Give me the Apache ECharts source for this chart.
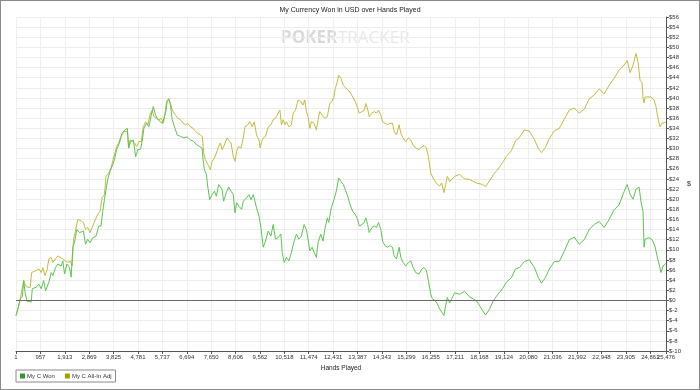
<!DOCTYPE html>
<html>
<head>
<meta charset="utf-8">
<script src="https://cdn.jsdelivr.net/npm/echarts@6/dist/echarts.min.js"></script>
<style>
html,body{margin:0;padding:0;background:#fff;}
#chart{width:700px;height:390px;box-sizing:border-box;border:1px solid #8a8a8a;}
</style>
</head>
<body>
<div id="chart"></div>
<script>
const titleText = 'My Currency Won in USD over Hands Played';
const xAxisName = 'Hands Played';
const yAxisName = '$';
const seriesNames = ['My C Won', 'My C All-In Adj'];

const xTicks = [1, 957, 1913, 2869, 3825, 4781, 5737, 6694, 7650, 8606, 9562, 10518, 11474, 12431, 13387, 14343, 15299, 16255, 17211, 18168, 19124, 20080, 21036, 21992, 22948, 23905, 24861, 25476];

const wonHands = [1,79,169,247,302,353,431,599,638,794,900,989,1083,1161,1290,1380,1447,1552,1642,1771,1837,1904,1994,2099,2162,2228,2294,2384,2490,2646,2724,2814,2904,3009,3138,3244,3334,3400,3467,3529,3595,3685,3791,3857,3947,4053,4154,4232,4365,4416,4494,4600,4690,4779,4885,4951,5014,5119,5209,5303,5381,5471,5561,5639,5733,5795,5862,5928,5990,6057,6123,6213,6319,6448,6577,6709,6838,6967,7100,7202,7295,7334,7385,7463,7514,7592,7686,7776,7854,7944,8010,8077,8139,8245,8335,8428,8518,8585,8647,8741,8843,8909,9038,9132,9210,9300,9366,9428,9522,9600,9690,9780,9886,9991,10081,10171,10277,10382,10433,10511,10601,10695,10796,10902,10992,11085,11187,11292,11382,11448,11515,11605,11683,11773,11839,11945,12035,12101,12203,12257,12359,12464,12554,12648,12738,12828,12906,13000,13090,13195,13297,13390,13453,13558,13648,13715,13781,13844,13949,14039,14133,14211,14301,14368,14469,14563,14653,14757,14820,14914,15016,15082,15172,15277,15383,15473,15563,15668,15797,15902,15992,16086,16164,16254,16320,16422,16515,16605,16683,16773,16840,16906,16996,17192,17387,17583,17778,18052,18286,18403,18560,18716,18872,19067,19224,19419,19576,19732,19927,20123,20318,20474,20592,20748,20904,21100,21295,21490,21686,21881,22076,22272,22467,22662,22858,23053,23248,23444,23639,23835,23952,24069,24186,24303,24421,24499,24577,24616,24655,24811,24928,25046,25124,25202,25280,25358,25476];
const wonValues = [-3.0,-1.7,0.3,0.7,3.9,1.7,-0.2,-0.3,2.3,2.6,3.2,2.3,3.9,1.9,3.6,5.5,4.9,6.5,7.2,6.8,7.8,5.2,7.2,6.5,4.6,10.5,11.4,14.0,13.4,13.7,11.1,12.1,11.4,12.4,12.7,14.7,14.7,17.6,19.9,21.9,23.9,25.5,26.8,27.8,29.8,31.1,33.0,33.5,34.0,30.1,31.4,31.7,28.4,29.8,29.9,31.7,34.0,35.0,34.3,36.6,38.3,36.6,35.7,36.0,35.0,34.7,37.0,39.3,39.7,38.6,35.7,34.3,32.7,32.4,32.1,32.3,31.7,31.4,30.7,30.4,30.1,27.8,25.8,24.9,22.6,19.9,20.9,21.6,20.6,22.9,23.2,21.9,19.6,21.3,22.4,21.6,20.9,17.3,19.3,18.6,18.0,19.6,20.3,20.9,19.9,20.9,20.6,18.3,16.7,14.4,10.5,11.7,13.7,12.7,15.0,12.1,12.4,13.1,9.5,7.5,8.5,7.8,9.5,11.7,13.1,12.1,12.7,15.0,14.0,12.1,9.8,10.5,9.5,8.5,11.4,13.1,11.7,14.0,16.3,15.4,18.3,19.9,21.6,24.2,23.5,22.9,21.9,20.6,19.0,17.6,17.0,16.0,14.7,15.0,15.4,16.3,15.0,13.4,14.4,14.7,14.4,15.4,14.0,11.7,10.8,10.5,10.8,10.5,8.8,8.2,10.5,8.5,7.5,6.8,7.5,7.8,6.5,5.5,5.2,6.2,6.5,5.9,3.9,1.3,0.3,0.0,-0.7,-1.7,-2.0,-3.0,-1.0,0.6,-0.5,1.5,1.2,1.8,0.7,-0.1,-2.0,-2.9,-1.7,0.0,1.1,2.3,3.6,4.5,6.2,6.5,7.7,8.0,6.5,4.5,3.4,4.5,6.2,7.7,7.7,9.7,12.0,12.5,11.1,12.0,14.0,15.0,15.6,14.4,16.0,17.9,18.9,21.5,22.9,21.0,20.0,22.0,22.4,19.4,17.6,10.5,12.1,12.4,12.0,10.7,8.8,7.2,5.5,6.8,7.3];

const adjHands = [1,169,302,380,470,560,614,693,794,900,989,1056,1134,1212,1290,1380,1447,1552,1642,1732,1837,1943,2033,2123,2201,2255,2333,2423,2552,2646,2724,2814,2904,3009,3115,3205,3295,3373,3467,3529,3635,3724,3791,3857,3947,4025,4115,4248,4365,4416,4467,4560,4650,4729,4818,4912,4990,5080,5170,5248,5342,5405,5510,5600,5694,5772,5823,5901,5990,6057,6123,6186,6252,6342,6448,6553,6643,6733,6838,6944,7034,7124,7229,7307,7358,7424,7491,7553,7620,7686,7776,7854,7944,8010,8077,8167,8272,8335,8428,8518,8585,8647,8713,8819,8909,8975,9077,9171,9261,9339,9428,9522,9573,9624,9690,9780,9886,9991,10081,10171,10277,10343,10405,10472,10538,10601,10695,10796,10863,10953,11058,11164,11253,11320,11382,11448,11515,11577,11683,11773,11839,11905,11995,12101,12203,12257,12296,12386,12464,12515,12593,12648,12738,12828,12906,13000,13090,13195,13297,13390,13453,13558,13648,13715,13793,13844,13949,14039,14133,14211,14301,14368,14469,14563,14653,14757,14820,14914,15016,15082,15172,15277,15383,15473,15563,15668,15797,15902,15992,16086,16164,16254,16344,16422,16515,16605,16683,16773,16840,16906,16996,17192,17387,17583,17778,18052,18286,18403,18560,18716,18872,19067,19224,19419,19576,19732,19927,20123,20318,20474,20592,20748,20904,21100,21295,21490,21686,21881,22076,22272,22467,22662,22858,23053,23248,23444,23639,23835,23952,24069,24186,24303,24382,24460,24538,24577,24616,24655,24733,24889,25007,25085,25124,25163,25241,25280,25319,25397,25476];
const adjValues = [-3.0,0.3,3.9,2.9,2.6,2.6,5.5,5.7,5.9,6.2,5.5,6.5,4.9,5.9,8.2,8.5,7.5,8.2,8.8,8.5,8.2,7.8,7.5,7.8,6.8,12.1,13.7,16.0,15.7,15.4,14.0,14.4,13.4,14.7,16.0,17.0,17.6,20.3,20.9,24.5,25.2,26.2,27.5,27.8,30.4,31.1,32.4,33.4,33.4,30.1,31.7,31.4,31.1,30.4,31.4,31.4,34.3,35.3,34.7,36.6,37.6,36.3,36.0,35.7,36.0,35.0,36.3,39.3,39.9,38.9,37.6,37.3,36.6,36.0,35.7,35.0,34.7,35.0,34.3,34.0,33.4,33.0,32.7,32.3,29.1,27.8,28.1,26.5,25.8,27.5,28.1,29.1,30.4,31.1,29.8,30.7,32.1,32.4,31.1,28.4,27.5,29.4,30.4,30.1,32.1,34.3,34.7,35.3,34.3,35.3,32.7,31.7,30.1,31.4,32.1,32.4,34.3,34.7,35.7,36.0,37.0,37.6,34.7,35.7,34.7,35.3,34.3,34.7,37.0,37.6,39.6,39.3,38.6,39.6,37.3,36.3,34.0,35.3,35.0,33.7,35.7,37.3,36.6,36.0,36.3,36.0,38.9,39.3,40.2,41.9,43.2,44.5,43.9,42.5,42.2,41.6,41.2,40.2,39.3,38.0,37.0,37.3,37.6,38.9,37.6,36.3,37.0,37.3,37.0,37.6,36.6,35.3,35.0,34.7,35.0,35.0,33.4,32.7,34.7,33.0,32.1,31.4,32.1,31.7,30.7,30.1,29.8,30.3,30.6,30.1,28.4,25.2,24.2,23.9,22.9,22.6,23.2,21.3,22.9,24.5,23.5,24.5,24.9,24.0,23.9,23.2,22.9,22.5,23.6,24.9,25.8,27.2,28.5,29.6,31.5,32.2,33.7,33.4,31.8,30.0,29.2,30.2,32.0,33.5,34.0,35.8,37.6,38.0,37.0,37.8,39.8,40.6,41.8,40.8,42.5,43.9,45.5,46.5,47.4,45.0,46.5,48.8,47.0,43.5,43.0,39.9,39.0,40.2,39.9,40.2,39.6,38.3,37.0,36.0,34.3,34.0,35.0,35.0,35.2];

function zip(xs, ys) { return xs.map((x, i) => [x, ys[i]]); }
function commas(v) { return String(Math.round(v)).replace(/\B(?=(\d{3})+(?!\d))/g, ','); }

const FONT = 'Liberation Sans, Arial, sans-serif';
const xMin = xTicks[0], xMax = xTicks[xTicks.length - 1];
const xLabelStyle = {fontSize: 6, color: '#333', margin: 3, formatter: v => commas(v), fontFamily: FONT};

const chart = echarts.init(document.getElementById('chart'), null, {renderer: 'canvas'});
chart.setOption({
  animation: false,
  backgroundColor: '#ffffff',
  textStyle: {fontFamily: FONT},
  title: {
    text: titleText, left: 'center', top: 1,
    textStyle: {fontSize: 7, fontWeight: 'normal', color: '#222', fontFamily: FONT}
  },
  graphic: [
    {type: 'text', left: 280, top: 29, silent: true, z: 0,
     style: {text: 'POKER', fontSize: 17, fontWeight: 'bold', fill: '#d9d9d9', fontFamily: 'Open Sans, sans-serif'}},
    {type: 'text', left: 337, top: 29, silent: true, z: 0,
     style: {text: 'TRACKER', fontSize: 17, fontWeight: 'normal', fill: '#e8e8e8', fontFamily: 'Open Sans, sans-serif'}}
  ],
  legend: {
    data: seriesNames,
    left: 15, top: 369,
    orient: 'horizontal',
    icon: 'rect', itemWidth: 5, itemHeight: 5, itemGap: 10,
    borderColor: '#8a8a8a', borderWidth: 1, padding: [3, 4, 3, 4],
    textStyle: {fontSize: 6, color: '#333', fontFamily: FONT, padding: [0, 0, 0, -3]}
  },
  grid: {left: 15, right: 33, top: 16, bottom: 38, containLabel: false},
  xAxis: [
    {
      type: 'value', min: xMin, max: xMax,
      name: xAxisName, nameLocation: 'middle', nameGap: 10,
      nameTextStyle: {fontSize: 6.5, color: '#222', fontFamily: FONT},
      axisLine: {show: true, onZero: false, lineStyle: {color: '#555', width: 1}},
      axisTick: {show: true, length: 3, customValues: xTicks, lineStyle: {color: '#555'}},
      axisLabel: Object.assign({customValues: xTicks.slice(0, -1), showMinLabel: true, showMaxLabel: true}, xLabelStyle),
      splitLine: {show: true, customValues: xTicks, lineStyle: {color: '#efefef', width: 1}}
    },
    {
      type: 'value', min: xMin, max: xMax, position: 'bottom',
      axisLine: {show: false, onZero: false},
      axisTick: {show: false},
      splitLine: {show: false},
      axisLabel: Object.assign({customValues: xTicks.slice(-1), showMinLabel: true, showMaxLabel: true}, xLabelStyle)
    }
  ],
  yAxis: {
    type: 'value', position: 'right', min: -10, max: 56, interval: 2,
    name: yAxisName, nameLocation: 'middle', nameRotate: 0, nameGap: 21,
    nameTextStyle: {fontSize: 7, color: '#222', fontFamily: FONT},
    axisLine: {show: true, lineStyle: {color: '#555', width: 1}},
    axisTick: {show: true, length: 3, lineStyle: {color: '#555'}},
    axisLabel: {fontSize: 6, color: '#333', margin: 3, formatter: v => '$' + v, fontFamily: FONT},
    splitLine: {show: true, lineStyle: {color: '#ececec', width: 1}}
  },
  series: [
    {
      name: seriesNames[1], type: 'line', showSymbol: false, symbol: 'none',
      xAxisIndex: 0,
      data: zip(adjHands, adjValues),
      color: '#a3a000',
      lineStyle: {color: '#c4bb3e', width: 1}
    },
    {
      name: seriesNames[0], type: 'line', showSymbol: false, symbol: 'none',
      xAxisIndex: 0,
      data: zip(wonHands, wonValues),
      color: '#2f9a2f',
      lineStyle: {color: '#5cc552', width: 1},
      markLine: {
        silent: true, symbol: ['none', 'none'], label: {show: false},
        lineStyle: {color: '#6a6a6a', type: 'solid', width: 1},
        data: [{yAxis: 0}]
      }
    }
  ]
});
</script>
</body>
</html>
